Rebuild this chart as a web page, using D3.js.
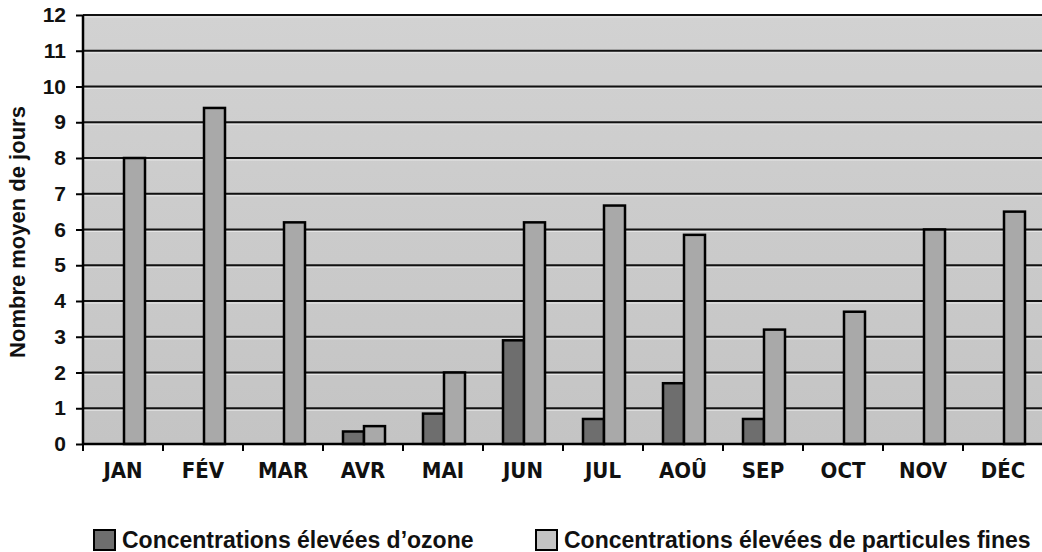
<!DOCTYPE html>
<html>
<head>
<meta charset="utf-8">
<script src="https://cdn.jsdelivr.net/npm/d3@7"></script>
<style>
  body { margin: 0; background: #fff; }
  svg { display: block; }
</style>
</head>
<body>
<svg id="chart" width="1042" height="552"></svg>
<script>
// donnees
const months = ["JAN", "FÉV", "MAR", "AVR", "MAI", "JUN", "JUL", "AOÛ", "SEP", "OCT", "NOV", "DÉC"];
const ozone = [0, 0, 0, 0.35, 0.85, 2.9, 0.7, 1.7, 0.7, 0, 0, 0];
const particules = [8.0, 9.4, 6.2, 0.5, 2.0, 6.2, 6.67, 5.85, 3.2, 3.7, 6.0, 6.5];
const series = ["Concentrations élevées d’ozone", "Concentrations élevées de particules fines"];
const yTicks = [0, 1, 2, 3, 4, 5, 6, 7, 8, 9, 10, 11, 12];

const colors = ["#6e6e6e", "#a9a9a9"];

var svg = d3.select("#chart");
var margin = {top: 15, right: -1, bottom: 108, left: 83};
var width = 1042 - margin.left - margin.right,
    height = 552 - margin.top - margin.bottom;

var g = svg.append("g").attr("transform", "translate(" + margin.left + "," + margin.top + ")");

var x = d3.scaleBand().domain(months).range([0, width]);
var y = d3.scaleLinear().domain([0, 12]).range([height, 0]);

// fond gris du graphique
var defs = svg.append("defs");
var grad = defs.append("linearGradient").attr("id", "bg").attr("x1", 0).attr("y1", 0).attr("x2", 0).attr("y2", 1);
grad.append("stop").attr("offset", "0%").attr("stop-color", "#d2d2d2");
grad.append("stop").attr("offset", "100%").attr("stop-color", "#c4c4c4");

g.append("rect").attr("x", 0).attr("y", 0).attr("width", width).attr("height", height).attr("fill", "url(#bg)");

// lignes de grille
g.selectAll(".grid-hi").data(yTicks.slice(1)).enter().append("line")
  .attr("x1", 0).attr("x2", width)
  .attr("y1", d => y(d) + 2).attr("y2", d => y(d) + 2)
  .attr("stroke", "#e6e6e6").attr("stroke-width", 1);
g.selectAll(".grid").data(yTicks.slice(1)).enter().append("line")
  .attr("x1", 0).attr("x2", width)
  .attr("y1", d => y(d)).attr("y2", d => y(d))
  .attr("stroke", "#111").attr("stroke-width", 2);

// barres
var inner = d3.scaleBand().domain([0, 1]).range([20, 62]);
var rows = months.map((m, i) => ({month: m, values: [ozone[i], particules[i]]}));

var groups = g.selectAll(".month").data(rows).enter().append("g")
  .attr("transform", d => "translate(" + x(d.month) + ",0)");

groups.selectAll("rect").data(d => d.values.map((v, k) => ({k: k, v: v})).filter(e => e.v > 0))
  .enter().append("rect")
  .attr("x", d => inner(d.k))
  .attr("y", d => y(d.v))
  .attr("width", inner.bandwidth())
  .attr("height", d => height - y(d.v))
  .attr("fill", d => colors[d.k])
  .attr("stroke", "#000").attr("stroke-width", 2.5);

// axes
var yAxis = g.append("g").call(d3.axisLeft(y).tickValues(yTicks).tickSize(7).tickPadding(10));
yAxis.select(".domain").attr("stroke", "#000").attr("stroke-width", 2.5).attr("d", "M0,0V" + height);
yAxis.selectAll(".tick line").attr("stroke", "#000").attr("stroke-width", 2);
yAxis.selectAll("text").attr("font-family", "Liberation Sans, Arial, sans-serif").attr("font-weight", "bold").attr("font-size", 21).attr("fill", "#111");

var xAxis = g.append("g").attr("transform", "translate(0," + height + ")")
  .call(d3.axisBottom(x).tickSize(0).tickPadding(18));
xAxis.select(".domain").attr("stroke", "#000").attr("stroke-width", 2.5).attr("d", "M0,0H" + width);
xAxis.selectAll("text").attr("font-family", "DejaVu Sans Condensed, Liberation Sans, sans-serif").attr("font-weight", "bold").attr("font-size", 22).attr("fill", "#111");
xAxis.selectAll(".sep").data(months).enter().append("line")
  .attr("x1", d => x(d)).attr("x2", d => x(d))
  .attr("y1", 0).attr("y2", 7)
  .attr("stroke", "#000").attr("stroke-width", 2);

// titre axe y
svg.append("text")
  .attr("transform", "translate(25,232) rotate(-90)")
  .attr("text-anchor", "middle")
  .attr("font-family", "Liberation Sans, Arial, sans-serif").attr("font-weight", "bold").attr("font-size", 22).attr("fill", "#111")
  .text("Nombre moyen de jours");

// legende
var legendX = [93, 535];
var legend = svg.selectAll(".legend").data(series).enter().append("g")
  .attr("transform", (d, i) => "translate(" + legendX[i] + ",530)");
legend.append("rect").attr("x", 1).attr("y", 0).attr("width", 21).attr("height", 20)
  .attr("fill", (d, i) => i == 0 ? colors[0] : "#c4c4c4").attr("stroke", "#000").attr("stroke-width", 2);
legend.append("text").attr("x", 29).attr("y", 18)
  .attr("font-family", "Liberation Sans, Arial, sans-serif").attr("font-weight", "bold").attr("font-size", 23).attr("fill", "#111")
  .text(d => d);
</script>
</body>
</html>
